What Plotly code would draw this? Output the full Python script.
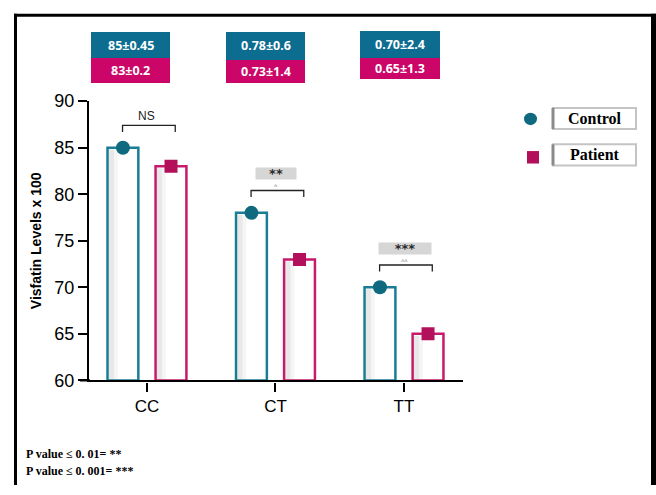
import plotly.graph_objects as go

W, H = 656, 495

categories = ["CC", "CT", "TT"]
control = [85, 78, 70]
patient = [83, 73, 65]
control_labels = ["85±0.45", "0.78±0.6", "0.70±2.4"]
patient_labels = ["83±0.2", "0.73±1.4", "0.65±1.3"]
sig_labels = ["NS", "**", "***"]
sig_sub = ["", "^", "^^"]
y_ticks = [60, 65, 70, 75, 80, 85, 90]
footnotes = ["P value ≤ 0. 01= **", "P value ≤ 0. 001= ***"]

TEAL_LINE = "#1a7d96"
TEAL_MARK = "#0f6a80"
PINK_LINE = "#c81a6c"
PINK_MARK = "#b3105c"
TEAL_BOX = "#0d6d91"
PINK_BOX = "#cc0668"

OFF = 0.187
BW = 0.24

def px(x):
    return x / W

def py(y):
    return 1 - y / H

idx = list(range(len(categories)))
xc = [i - OFF for i in idx]
xp = [i + OFF for i in idx]

fig = go.Figure()

fig.add_trace(go.Bar(x=xc, y=[v - 60 for v in control], base=60, width=BW,
                     marker=dict(color="white", line=dict(color=TEAL_LINE, width=2.5)),
                     showlegend=False, hoverinfo="skip"))
fig.add_trace(go.Bar(x=xp, y=[v - 60 for v in patient], base=60, width=BW,
                     marker=dict(color="white", line=dict(color=PINK_LINE, width=2.5)),
                     showlegend=False, hoverinfo="skip"))
for xs, vals in [(xc, control), (xp, patient)]:
    fig.add_trace(go.Bar(x=[x - BW / 2 + 0.03 for x in xs], y=[v - 60.3 for v in vals], base=60.1,
                         width=0.04, marker=dict(color="rgba(110,110,110,0.16)", line=dict(width=0)),
                         showlegend=False, hoverinfo="skip"))
    fig.add_trace(go.Bar(x=[x - BW / 2 + 0.065 for x in xs], y=[v - 60.3 for v in vals], base=60.1,
                         width=0.03, marker=dict(color="rgba(110,110,110,0.07)", line=dict(width=0)),
                         showlegend=False, hoverinfo="skip"))
fig.add_trace(go.Scatter(x=xc, y=control, mode="markers",
                         marker=dict(symbol="circle", size=14, color=TEAL_MARK),
                         showlegend=False, hoverinfo="skip"))
fig.add_trace(go.Scatter(x=xp, y=patient, mode="markers",
                         marker=dict(symbol="square", size=13, color=PINK_MARK),
                         showlegend=False, hoverinfo="skip"))

shapes = []
annotations = []

def ann(**kw):
    kw.setdefault("showarrow", False)
    kw.setdefault("xanchor", "center")
    kw.setdefault("yanchor", "middle")
    annotations.append(kw)

for i in idx:
    top = max(control[i], patient[i]) + 2.4
    x0, x1 = i - 0.19, i + 0.22
    shapes.append(dict(type="path", xref="x", yref="y",
                       path=f"M {x0} {top-0.7} L {x0} {top} L {x1} {top} L {x1} {top-0.7}",
                       line=dict(color="#222", width=1.3)))
    if sig_labels[i] == "NS":
        ann(x=(x0 + x1) / 2 - 0.02, y=top + 1.05, xref="x", yref="y", text="NS",
            font=dict(family="Liberation Sans Narrow, Liberation Sans", size=12, color="#222"))
    else:
        ann(x=(x0 + x1) / 2 - 0.01, y=top + 1.8, xref="x", yref="y",
            text=f"<b>{sig_labels[i]}</b>", bgcolor="#d6d6d6", width=12 * len(sig_labels[i]) + 16,
            height=11, borderpad=0,
            font=dict(family="DejaVu Sans", size=13, color="#2a2a2a"))
        ann(x=(x0 + x1) / 2 - 0.01, y=top + 0.42, xref="x", yref="y", text=sig_sub[i],
            font=dict(family="Liberation Sans", size=7, color="#777"))

shapes.append(dict(type="line", xref="paper", yref="paper", x0=px(80), x1=px(90), y0=py(386), y1=py(386),
                   line=dict(color="black", width=2.2)))

box_x = [(91, 170), (226, 305), (360, 440)]
box_y = [(23, 50, 76), (23, 52, 76), (22, 50, 72)]
for i in idx:
    bx0, bx1 = box_x[i]
    t, m, b = box_y[i]
    shapes.append(dict(type="rect", xref="paper", yref="paper", x0=px(bx0), x1=px(bx1), y0=py(m), y1=py(t),
                       fillcolor=TEAL_BOX, line=dict(width=0)))
    shapes.append(dict(type="rect", xref="paper", yref="paper", x0=px(bx0), x1=px(bx1), y0=py(b), y1=py(m),
                       fillcolor=PINK_BOX, line=dict(width=0)))
    ann(x=px((bx0 + bx1) / 2), y=py((t + m) / 2), xref="paper", yref="paper",
        text=f"<b>{control_labels[i]}</b>", font=dict(family="Noto Sans", size=12.5, color="white"))
    ann(x=px((bx0 + bx1) / 2), y=py((m + b) / 2), xref="paper", yref="paper",
        text=f"<b>{patient_labels[i]}</b>", font=dict(family="Noto Sans", size=12.5, color="white"))

shapes.append(dict(type="circle", xref="paper", yref="paper", x0=px(524), x1=px(537), y0=py(120), y1=py(107),
                   fillcolor=TEAL_MARK, line=dict(width=0)))
shapes.append(dict(type="rect", xref="paper", yref="paper", x0=px(527), x1=px(539), y0=py(160), y1=py(147),
                   fillcolor=PINK_MARK, line=dict(width=0)))
for name, (y0, y1) in [("Control", (102, 124)), ("Patient", (140, 162))]:
    shapes.append(dict(type="rect", xref="paper", yref="paper", x0=px(553), x1=px(636), y0=py(y1), y1=py(y0),
                       fillcolor="white", line=dict(color="#c4c4c4", width=2)))
    shapes.append(dict(type="line", xref="paper", yref="paper", x0=px(553), x1=px(553), y0=py(y1), y1=py(y0),
                       line=dict(color="#8a8a8a", width=3)))
    ann(x=px(595), y=py((y0 + y1) / 2), xref="paper", yref="paper", text=f"<b>{name}</b>",
        font=dict(family="Liberation Serif", size=16, color="black"))

for k, txt in enumerate(footnotes):
    ann(x=px(24), y=py(463 + 17 * k), xref="paper", yref="paper", xanchor="left",
        text=f"<b>{txt}</b>", font=dict(family="Liberation Serif", size=12, color="black"))

shapes.append(dict(type="line", xref="paper", yref="paper", x0=px(14), x1=1, y0=py(5.5), y1=py(5.5),
                   line=dict(color="black", width=3)))
shapes.append(dict(type="line", xref="paper", yref="paper", x0=px(15.5), x1=px(15.5), y0=0, y1=py(4),
                   line=dict(color="black", width=3)))
shapes.append(dict(type="line", xref="paper", yref="paper", x0=px(653.5), x1=px(653.5), y0=0, y1=py(4),
                   line=dict(color="black", width=5)))

fig.update_layout(
    width=W, height=H, margin=dict(l=0, r=0, t=0, b=0),
    paper_bgcolor="white", plot_bgcolor="white",
    barmode="overlay",
    xaxis=dict(domain=[px(89), px(463)], range=[-0.451, 2.459],
               tickvals=idx, ticktext=categories, ticks="outside", ticklen=9, tickwidth=2,
               tickcolor="black", showline=True, linecolor="black", linewidth=2.2,
               showgrid=False, zeroline=False,
               tickfont=dict(family="Liberation Sans", size=17, color="black")),
    yaxis=dict(domain=[py(386), py(95)], range=[60, 90], tickvals=y_ticks,
               ticks="outside", ticklen=9, tickwidth=2, tickcolor="black",
               showline=True, linecolor="black", linewidth=2.2, showgrid=False, zeroline=False,
               tickfont=dict(family="Liberation Sans", size=18, color="black"),
               title=dict(text="<b>Visfatin Levels x 100</b>", standoff=9,
                          font=dict(family="Liberation Sans", size=14, color="black"))),
    shapes=shapes, annotations=annotations,
)

fig.write_html("out.html")
